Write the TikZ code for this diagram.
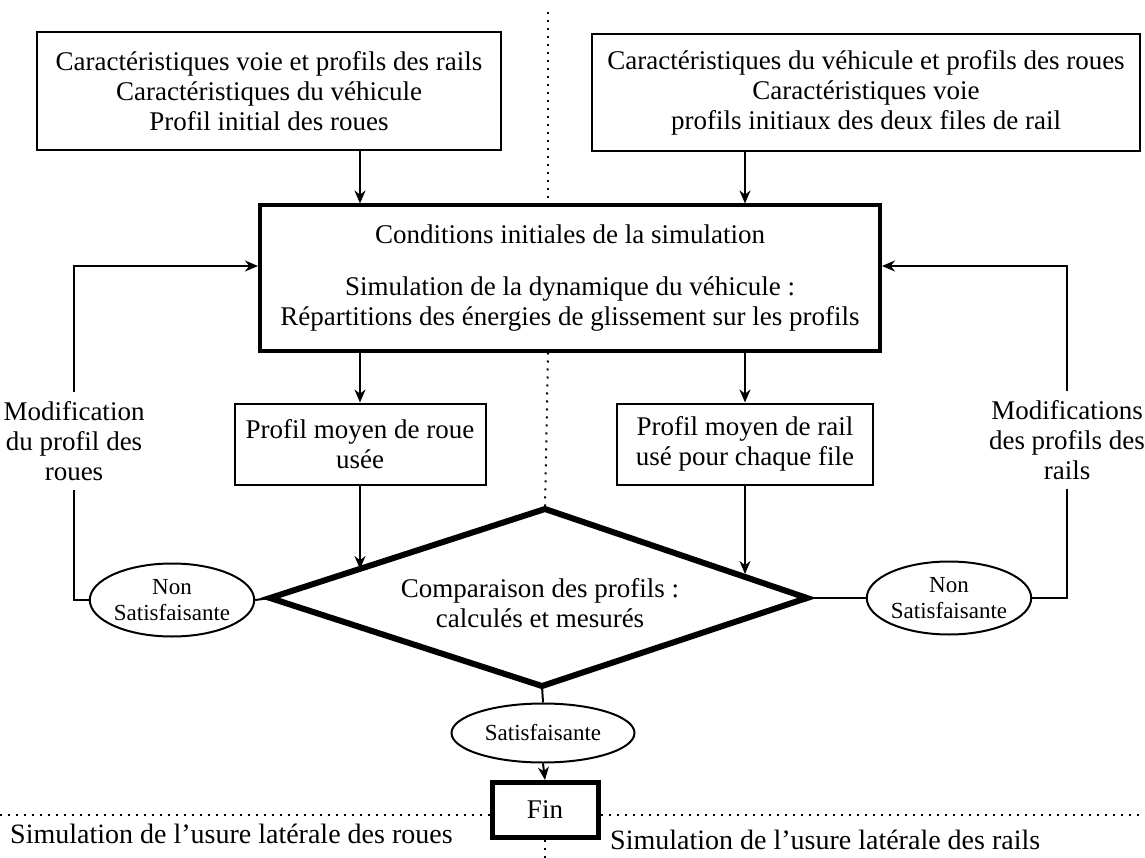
\documentclass[tikz,border=0pt]{standalone}
\usepackage{fontspec}
\setmainfont{Liberation Serif}
\usetikzlibrary{shapes.geometric,arrows.meta}

\begin{document}
\begin{tikzpicture}[x=1pt,y=-1pt,
    font=\fontsize{27}{30}\selectfont,
    trait/.style={line width=2pt},
    fleche/.style={trait,-{Stealth[length=13pt,width=11pt]}},
    boite/.style={draw,trait,align=center,inner sep=0pt},
    grosseboite/.style={draw,line width=4pt,align=center,inner sep=0pt},
    ovale/.style={draw,trait,ellipse,align=center,inner sep=0pt,font=\fontsize{23}{26}\selectfont},
    pointille/.style={line width=2pt,dash pattern=on 2pt off 6pt}]
\useasboundingbox (0,0) rectangle (1145,858);

\coordinate (colg) at (360,0);
\coordinate (cold) at (745,0);
\coordinate (axe) at (548,12);
\coordinate (retour) at (0,266);
\coordinate (basfin) at (0,815);

\node[boite,minimum width=464pt,minimum height=118pt] (voie) at (269,91)
    {Caractéristiques voie et profils des rails\\Caractéristiques du véhicule\\Profil initial des roues};
\node[boite,minimum width=548pt,minimum height=117pt] (vehicule) at (866,93)
    {Caractéristiques du véhicule et profils des roues\\Caractéristiques voie\\profils initiaux des deux files de rail};
\node[grosseboite,minimum width=620pt,minimum height=145pt] (simul) at (570,278)
    {Conditions initiales de la simulation\\[22pt]Simulation de la dynamique du véhicule :\\Répartitions des énergies de glissement sur les profils};
\node[boite,minimum width=251pt,minimum height=81pt] (roue) at (360,444) {Profil moyen de roue\\usée};
\node[boite,minimum width=256pt,minimum height=81pt] (rail) at (745,444) {Profil moyen de rail\\usé pour chaque file};

\coordinate (cg) at (270,598);
\coordinate (ch) at (545,509);
\coordinate (cd) at (807,598);
\coordinate (cb) at (542,686);
\draw[line width=6pt,line join=miter] (cg) -- (ch) -- (cd) -- (cb) -- cycle;
\node[align=center] (comp) at (540,603) {Comparaison des profils :\\calculés et mesurés};
\coordinate (eg) at (360,569);
\coordinate (ed) at (745,574);

\node[ovale,minimum width=155pt,minimum height=73pt] (nonroue) at (172,600) {Non\\Satisfaisante};
\node[ovale,minimum width=152pt,minimum height=73pt] (nonrail) at (949,598) {Non\\Satisfaisante};
\node[ovale,minimum width=183pt,minimum height=59pt] (satis) at (543,733) {Satisfaisante};
\node[draw,line width=5pt,minimum width=106pt,minimum height=55pt] (fin) at (545,810) {Fin};

\node[align=center,inner ysep=9pt] (modroue) at (74,441) {Modification\\du profil des\\roues};
\node[align=center,inner ysep=9pt] (modrail) at (1067,440) {Modifications\\des profils des\\rails};

\node[anchor=west,inner sep=2pt,font=\fontsize{28}{30}\selectfont] (usureroue) at (8,834) {Simulation de l’usure latérale des roues};
\node[anchor=west,inner sep=2pt,font=\fontsize{28}{30}\selectfont] (usurerail) at (608,840) {Simulation de l’usure latérale des rails};

\draw[fleche] (voie.south -| colg) -- (simul.north -| colg);
\draw[fleche] (vehicule.south -| cold) -- (simul.north -| cold);
\draw[fleche] (simul.south -| colg) -- (roue.north);
\draw[fleche] (simul.south -| cold) -- (rail.north);
\draw[fleche] (roue.south) -- (eg);
\draw[fleche] (rail.south) -- (ed);

\draw[trait] (cg) -- (nonroue.east);
\draw[trait] (nonroue.west) -| (modroue.south);
\draw[fleche] (modroue.north) |- (simul.west |- retour);
\draw[trait] (cd) -- (nonrail.west);
\draw[trait] (nonrail.east) -| (modrail.south);
\draw[fleche] (modrail.north) |- (simul.east |- retour);

\draw[trait] (cb) -- (satis.north);
\draw[fleche] (satis.south) -- (fin.north);

\draw[pointille] (axe) -- (axe |- simul.north);
\draw[pointille] (axe |- simul.south) -- (ch);
\draw[pointille] (fin.south) -- (fin.south |- 0,858);
\draw[pointille] (basfin) -- (fin.west |- basfin);
\draw[pointille] (fin.east |- basfin) -- (1145,815);
\end{tikzpicture}
\end{document}
